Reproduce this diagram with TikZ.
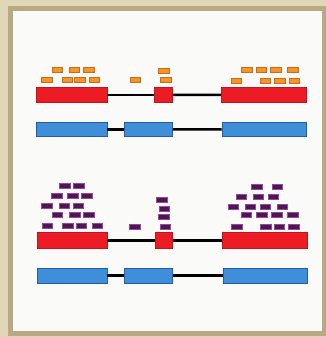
\documentclass[tikz,border=0pt]{standalone}
\definecolor{bgout}{RGB}{224,214,184}
\definecolor{frame}{RGB}{185,168,132}
\definecolor{panel}{RGB}{250,250,248}
\definecolor{redfill}{RGB}{236,28,36}
\definecolor{redline}{RGB}{195,20,30}
\definecolor{bluefill}{RGB}{62,142,216}
\definecolor{blueline}{RGB}{36,92,172}
\definecolor{orfill}{RGB}{242,150,42}
\definecolor{orline}{RGB}{205,105,25}
\definecolor{pufill}{RGB}{78,24,78}
\definecolor{puline}{RGB}{150,70,165}
\begin{document}
\begin{tikzpicture}[x=1pt,y=-1pt,
  exon/.style={rectangle,inner sep=0pt,line width=0.6pt},
  redexon/.style={exon,fill=redfill,draw=redline},
  blueexon/.style={exon,fill=bluefill,draw=blueline},
  intron/.style={line width=2.5pt,black},
  oread/.style={rectangle,inner sep=0pt,minimum width=10.5pt,minimum height=4.8pt,line width=0.5pt,
    fill=orfill,draw=orline},
  pread/.style={rectangle,inner sep=0pt,minimum width=10.5pt,minimum height=4.8pt,line width=0.6pt,
    fill=pufill,draw=puline}]
\useasboundingbox (0,0) rectangle (326,337);
\fill[bgout] (0,0) rectangle (326,337);
\draw[line width=5pt,draw=frame,fill=panel] (10,9) rectangle (324,333);

% top panel exons
\node[redexon,minimum width=71pt,minimum height=15.5pt] (r1) at (71.5,94.75) {};
\node[redexon,minimum width=18.5pt,minimum height=15.5pt] (r2) at (163.25,94.75) {};
\node[redexon,minimum width=85pt,minimum height=15.5pt] (r3) at (264,95) {};
\node[blueexon,minimum width=71pt,minimum height=14.5pt] (b1) at (71.5,129.25) {};
\node[blueexon,minimum width=48.5pt,minimum height=14.5pt] (b2) at (148.25,129.25) {};
\node[blueexon,minimum width=84.5pt,minimum height=14.5pt] (b3) at (264.25,129.5) {};
\draw[intron] (r1.east) -- (r2.west);
\draw[intron] (r2.east) -- (r3.west);
\draw[intron] (b1.east) -- (b2.west);
\draw[intron] (b2.east) -- (b3.west);

% orange reads
\foreach \x/\y [count=\i] in {57/69.5,74/69.5,88.5/69.5,246.5/70,261/70,275.5/70,292.5/70,163.5/70.5,
  46.5/80,67/80,79.5/80,94/80,135/80,165.5/79.5,236/81,265/81,279.5/81,294/81}
  \node[oread] (o\i) at (\x,\y) {};

% bottom panel exons
\node[redexon,minimum width=70pt,minimum height=15.5pt] (R1) at (72,240.25) {};
\node[redexon,minimum width=17.5pt,minimum height=15.5pt] (R2) at (163.75,240.25) {};
\node[redexon,minimum width=85pt,minimum height=15.5pt] (R3) at (264.5,240.25) {};
\node[blueexon,minimum width=70pt,minimum height=15pt] (B1) at (72,275.5) {};
\node[blueexon,minimum width=48.5pt,minimum height=15pt] (B2) at (148.25,275.5) {};
\node[blueexon,minimum width=84pt,minimum height=15pt] (B3) at (265,275.5) {};
\draw[intron] (R1.east) -- (R2.west);
\draw[intron] (R2.east) -- (R3.west);
\draw[intron] (B1.east) -- (B2.west);
\draw[intron] (B2.east) -- (B3.west);

% purple reads
\foreach \x/\y [count=\i] in {65/186,79/186,257/186.5,277.5/186.5,
  57/196,73/196,87/196,241.5/196.5,258.5/196.5,273.5/196.5,162/200,
  47/205.5,64.5/205.5,78.5/205.5,233.5/206.5,250.5/206.5,265.5/206.5,282.5/206.5,164.5/208.5,
  57.5/214.5,75/214.5,89/214.5,246.5/215,262/215,277/215,293/215,164/217,
  47.5/226,68/226,81.5/226,97.5/226,135/226.5,165.5/226.5,237/226.5,266/226.5,279.5/226.5,294/226.5}
  \node[pread] (p\i) at (\x,\y) {};
\end{tikzpicture}
\end{document}
